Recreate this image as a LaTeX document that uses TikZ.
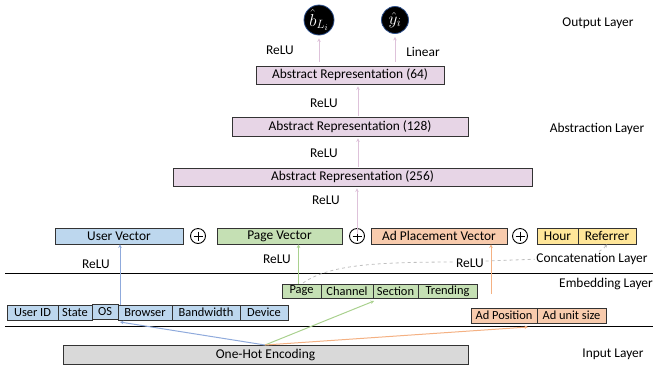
\documentclass[tikz,border=0pt]{standalone}
\usepackage{fontspec}
\setmainfont{Carlito}
\usetikzlibrary{arrows.meta,calc}
\definecolor{lav}{RGB}{231,213,230}
\definecolor{pinkarr}{RGB}{222,194,218}
\definecolor{bluefill}{RGB}{189,215,238}
\definecolor{greenfill}{RGB}{197,224,180}
\definecolor{orangefill}{RGB}{248,203,173}
\definecolor{yellowfill}{RGB}{255,230,153}
\definecolor{grayfill}{RGB}{217,217,217}
\definecolor{bluearr}{RGB}{143,170,220}
\definecolor{greenarr}{RGB}{169,209,142}
\definecolor{orangearr}{RGB}{244,177,131}
\definecolor{dashgray}{RGB}{191,191,191}
\definecolor{circbord}{RGB}{47,82,143}
\tikzset{
  bigfont/.style={font=\fontsize{13.4}{15}\selectfont},
  smallfont/.style={font=\fontsize{12.4}{14}\selectfont},
  box/.style={draw=black!80, line width=0.9pt, inner sep=0pt, bigfont},
  sbox/.style={draw=black!80, line width=0.9pt, inner sep=0pt, smallfont},
  lbl/.style={inner sep=1pt, bigfont},
  outc/.style={circle, fill=black, draw=circbord, line width=0.8pt, text=white, inner sep=0pt, font=\fontsize{18}{20}\selectfont},
  plusc/.style={circle, draw=black, line width=0.9pt, minimum size=15pt, inner sep=0pt,
    path picture={\draw[line width=0.9pt] ($(path picture bounding box.center)+(-4.5,0)$) -- ($(path picture bounding box.center)+(4.5,0)$)
      ($(path picture bounding box.center)+(0,-4.5)$) -- ($(path picture bounding box.center)+(0,4.5)$);}},
  arr/.style={line width=1pt, -{Stealth[length=3.5pt,width=3.5pt]}},
}
\begin{document}
\begin{tikzpicture}[x=1pt,y=-1pt]
\useasboundingbox (0,0) rectangle (655,368);
% output
\node[outc, minimum size=30pt] (o1) at (319,20) {$\hat{b}_{L_i}$};
\node[outc, minimum size=27pt] (o2) at (395,20) {$\hat{y}_i$};
% abstraction boxes
\node[box, fill=lav, minimum width=188pt, minimum height=18pt] (a64) at (350,75) {Abstract Representation (64)};
\node[box, fill=lav, minimum width=236pt, minimum height=19pt] (a128) at (350,126.5) {Abstract Representation (128)};
\node[box, fill=lav, minimum width=359pt, minimum height=18pt] (a256) at (352.5,177) {Abstract Representation (256)};
% vectors
\node[box, fill=bluefill, minimum width=128pt, minimum height=16pt] (uv) at (119,236) {User Vector};
\node[plusc] (p1) at (198,236) {};
\node[box, fill=greenfill, minimum width=125pt, minimum height=16pt] (pv) at (279.5,236) {Page Vector};
\node[plusc] (p2) at (357,236) {};
\node[box, fill=orangefill, minimum width=136pt, minimum height=16pt] (apv) at (439,236) {Ad Placement Vector};
\node[plusc] (p3) at (520,236) {};
\node[box, fill=yellowfill, minimum width=41pt, minimum height=16pt] (hour) at (557.5,236) {Hour};
\node[box, fill=yellowfill, minimum width=58pt, minimum height=16pt] (ref) at (607,236) {Referrer};
% layer lines
\draw[line width=0.9pt] (5,273) -- (653,273);
\draw[line width=0.9pt] (5,326) -- (653,326);
% page row
\node[sbox, fill=greenfill, minimum width=39pt, minimum height=14pt] (page) at (301.5,291) {Page};
\node[sbox, fill=greenfill, minimum width=52pt, minimum height=14pt] (chan) at (347,291) {Channel};
\node[sbox, fill=greenfill, minimum width=45pt, minimum height=14pt] (sec) at (395.5,291) {Section};
\node[sbox, fill=greenfill, minimum width=59pt, minimum height=14pt] (trend) at (447.5,291) {Trending};
% user row
\node[sbox, fill=bluefill, minimum width=51pt, minimum height=15pt] (uid) at (32.5,312.5) {User ID};
\node[sbox, fill=bluefill, minimum width=34pt, minimum height=15pt] (state) at (75,312.5) {State};
\node[sbox, fill=bluefill, minimum width=26pt, minimum height=15pt] (os) at (105,312) {OS};
\node[sbox, fill=bluefill, minimum width=54pt, minimum height=15pt] (brow) at (145,312.5) {Browser};
\node[sbox, fill=bluefill, minimum width=68pt, minimum height=15pt] (band) at (206,312.5) {Bandwidth};
\node[sbox, fill=bluefill, minimum width=48pt, minimum height=15pt] (dev) at (264,312.5) {Device};
% ad row
\node[sbox, fill=orangefill, minimum width=66pt, minimum height=15pt] (adpos) at (504,315.5) {Ad Position};
\node[sbox, fill=orangefill, minimum width=69pt, minimum height=15pt] (adunit) at (571.5,315.5) {Ad unit size};
% one-hot
\node[box, fill=grayfill, minimum width=405pt, minimum height=19pt] (oh) at (265.5,354.5) {One-Hot Encoding};
% coordinates
\coordinate (ohsrc) at (265,345);
\coordinate (bluetop) at (120,305);
\coordinate (orstart) at (491,294);
\coordinate (osend) at (120,322);
\coordinate (secend) at (374,301);
\coordinate (adend) at (528,327);
\coordinate (pagetop) at (303,283);
\coordinate (ax) at (358,0);
% pink arrows
\draw[arr, pinkarr] ([yshift=4pt]o1 |- a64.north) -- ([yshift=-3pt]o1.south);
\draw[arr, pinkarr] ([yshift=4pt]o2 |- a64.north) -- ([yshift=-3pt]o2.south);
\draw[arr, pinkarr] ([yshift=1pt]ax |- a128.north) -- ([yshift=-2pt]ax |- a64.south);
\draw[arr, pinkarr] ([yshift=1pt]ax |- a256.north) -- ([yshift=-2pt]ax |- a128.south);
\draw[arr, pinkarr] ([yshift=-6pt]p2.north) -- ([yshift=-2pt]p2 |- a256.south);
% colored arrows
\draw[arr, bluearr] (bluetop) -- (bluetop |- uv.south);
\draw[arr, greenarr] ([xshift=-3pt]page.north) -- ([xshift=-3pt]page.north |- pv.south);
\draw[arr, orangearr] (orstart) -- (orstart |- apv.south);
\draw[arr, bluearr] (ohsrc) -- (osend);
\draw[arr, greenarr] (ohsrc) -- (secend);
\draw[arr, orangearr] (ohsrc) -- (adend);
% dashed concatenation curve
\draw[dashed, dashgray, line width=0.8pt, -{Stealth[length=3pt,width=3pt]}] (pagetop) .. controls (330,264) and (380,262) .. (460,262) -- (540,259) .. controls (585,257) and (600,254) .. (ref.south);
% labels
\node[lbl] (r0) at (280,50) {ReLU};
\node[lbl] (lin) at (423,52) {Linear};
\node[lbl] (r1) at (324,103) {ReLU};
\node[lbl] (r2) at (324,153) {ReLU};
\node[lbl] (r3) at (326,200) {ReLU};
\node[lbl] (r4) at (96,264) {ReLU};
\node[lbl] (r5) at (277,259) {ReLU};
\node[lbl, fill=white] (r6) at (470,263) {ReLU};
\node[lbl, fill=white] (concat) at (592,259) {Concatenation Layer};
\node[lbl] (outl) at (598,23) {Output Layer};
\node[lbl] (absl) at (597,129) {Abstraction Layer};
\node[lbl] (embl) at (606,284) {Embedding Layer};
\node[lbl] (inl) at (613,354) {Input Layer};
\end{tikzpicture}
\end{document}
